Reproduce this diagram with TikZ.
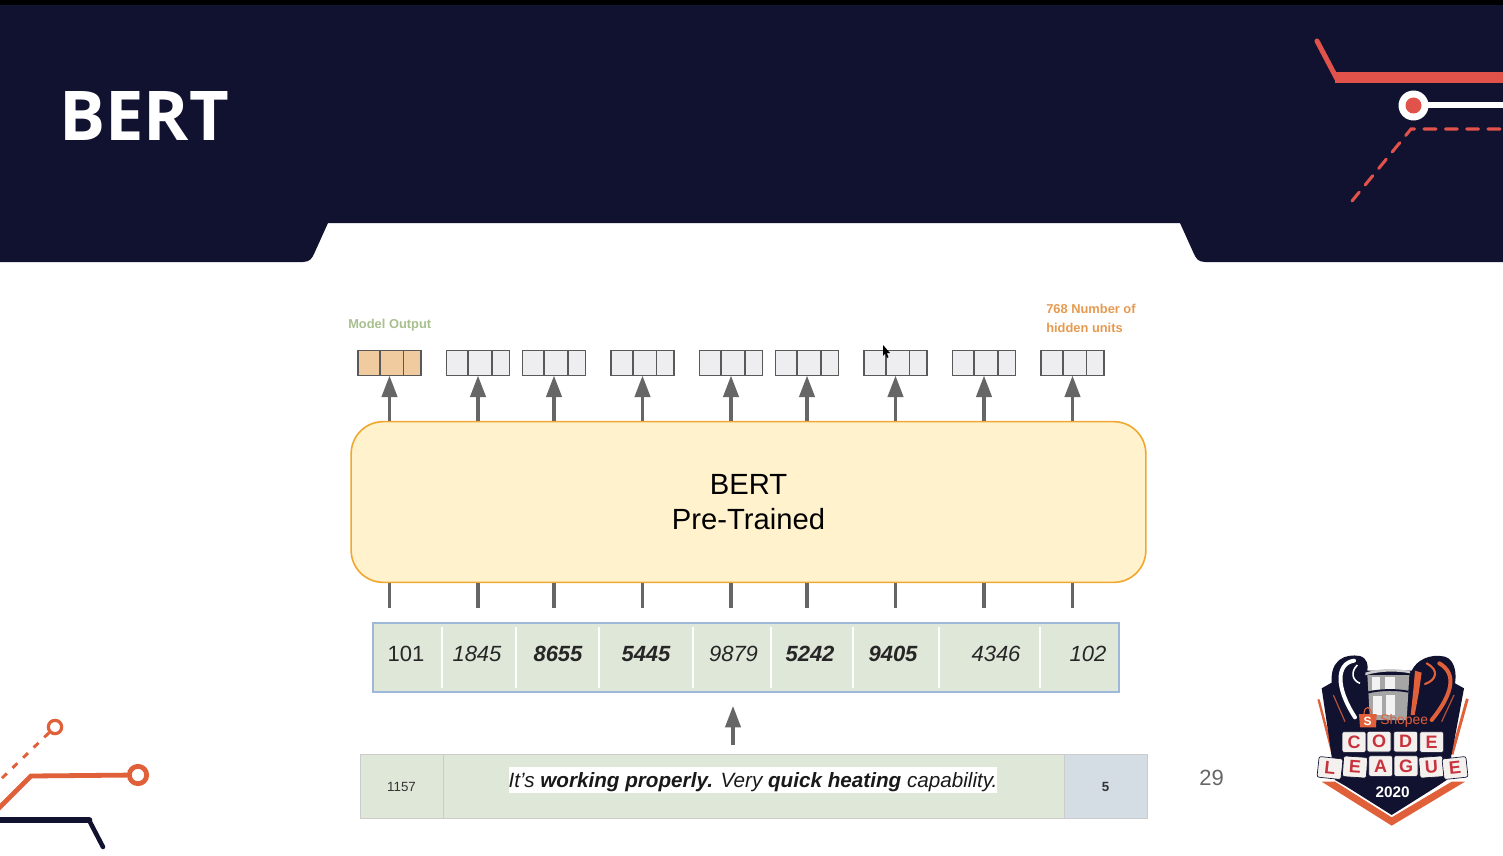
\documentclass[tikz,border=0pt]{standalone}
\usepackage{fontspec}
\setmainfont{Liberation Sans}
\newfontfamily\headfont{Open Sans}
\usetikzlibrary{arrows.meta}
\definecolor{navy}{HTML}{111130}
\definecolor{deco}{HTML}{E0524A}
\definecolor{decoO}{HTML}{E0603A}
\definecolor{arrowgray}{HTML}{666666}
\definecolor{cellgreen}{HTML}{DFE7D9}
\definecolor{cellblue}{HTML}{D3DDE3}
\definecolor{bertfill}{HTML}{FFF2CC}
\definecolor{bertline}{HTML}{F0A830}
\definecolor{tile}{HTML}{F4F0EE}
\definecolor{lettercol}{HTML}{C8323C}
\definecolor{outorange}{HTML}{F0CBA0}
\definecolor{outgray}{HTML}{EEEEF1}
\definecolor{modelgreen}{HTML}{A8C08E}
\definecolor{unitorange}{HTML}{E69A50}
\definecolor{tokenline}{HTML}{9DB8D8}
\tikzset{
  x=0.75pt,y=-0.75pt,
  flow/.style={draw=arrowgray,line width=2.3pt,-{Triangle[length=16pt,width=11.5pt]}},
  stub/.style={draw=arrowgray,line width=2.3pt},
  outbox/.style={draw=black!65,line width=1.2pt,fill=#1,minimum width=47pt,minimum height=19pt,inner sep=0pt,outer sep=0pt},
  token/.style={font=\fontsize{16.5pt}{18pt}\selectfont,inner sep=0pt,text=black!85},
  small/.style={font=\fontsize{10pt}{12pt}\selectfont,inner sep=0pt,text=black!80},
  sep/.style={draw=white,line width=2.2pt},
  lsep/.style={draw=black!20,line width=0.7pt},
  lettertile/.style={fill=tile,draw=navy,line width=0.5pt,rounded corners=1.5pt,minimum width=18pt,minimum height=15.5pt,inner sep=0pt,text=lettercol,font=\fontsize{13.5pt}{14pt}\selectfont\bfseries}
}
\begin{document}
\begin{tikzpicture}
\useasboundingbox (0,0) rectangle (1503,856);
\fill[white] (0,0) rectangle (1503,856);
% header
\fill[navy] (0,0) -- (1503,0) -- (1503,262) -- (1205,262) .. controls (1198,262) and (1196,258) .. (1194,254) -- (1180,223) -- (328,223) -- (314,254) .. controls (312,258) and (310,262) .. (303,262) -- (0,262) -- cycle;
\fill[black] (0,0) rectangle (1503,5);
\node[anchor=west,inner sep=0pt,text=white,font=\fontsize{51.5pt}{52pt}\selectfont\headfont\bfseries] (title) at (59,116) {BERT};
% top right decoration
\draw[deco,line width=3.8pt,line cap=round] (1317,41) -- (1337,79);
\fill[deco] (1335,72) rectangle (1503,83);
\draw[white,line width=5.2pt] (1420,105) -- (1503,105);
\node[circle,fill=white,minimum size=22.5pt,inner sep=0pt] (ringR) at (1413.5,105.5) {};
\node[circle,fill=deco,minimum size=12pt,inner sep=0pt] (dotR) at (ringR) {};
\draw[deco,line width=2.3pt,dash pattern=on 9pt off 7pt,line cap=round] (1500,129) -- (1411,129) -- (1352,201);
% bottom left decoration
\node[circle,draw=decoO,line width=2.4pt,minimum size=10pt,inner sep=0pt] (ringA) at (55,727) {};
\draw[decoO,line width=2.2pt,dash pattern=on 5pt off 6pt] (ringA) -- (0,780);
\node[circle,draw=decoO,line width=3.6pt,minimum size=13pt,inner sep=0pt] (ringB) at (138,775) {};
\draw[decoO,line width=3.6pt] (ringB) -- (31,776) -- (-2,809);
\draw[navy,line width=5pt,line cap=round] (-2,820) -- (89,820);
\draw[navy,line width=3.4pt,line cap=round] (89,820) -- (103,847);
% labels
\node[anchor=west,inner sep=0pt,font=\fontsize{9.65pt}{11pt}\selectfont\bfseries,text=modelgreen] (modelout) at (348,325) {Model Output};
\node[anchor=north west,align=left,inner sep=0pt,font=\fontsize{9.65pt}{14.2pt}\selectfont\bfseries,text=unitorange] (units) at (1046,303.5) {768 Number of\\hidden units};
% BERT box
\node[draw=bertline,fill=bertfill,line width=1.2pt,rounded corners=24pt,minimum width=596pt,minimum height=120.5pt,inner sep=0pt,align=center,font=\fontsize{21.9pt}{26pt}\selectfont] (bert) at (748.5,502) {BERT\\Pre-Trained};
% output boxes and arrows
\foreach \i/\xc/\col in {1/389.5/outorange,2/478/outgray,3/554/outgray,4/642.5/outgray,5/731/outgray,6/807/outgray,7/895.5/outgray,8/984/outgray,9/1072.5/outgray}{
  \node[outbox=\col] (out\i) at (\xc,363) {};
  \draw[black!65,line width=1.2pt] ([xshift=16.2pt]out\i.north west) -- ([xshift=16.2pt]out\i.south west);
  \draw[black!65,line width=1.2pt] ([xshift=34pt]out\i.north west) -- ([xshift=34pt]out\i.south west);
  \coordinate (base\i) at (bert.north -| out\i.south);
  \draw[flow] (base\i) -- (out\i.south);
  \coordinate (low\i) at (bert.south -| out\i.south);
  \coordinate (tok\i) at (\xc,608);
  \draw[stub] (low\i) -- (tok\i);
}
% token strip
\node[draw=tokenline,fill=cellgreen,line width=1.5pt,minimum width=559.5pt,minimum height=51.5pt,inner sep=0pt] (tokens) at (746,657.5) {};
\foreach \s in {442,516,599,693,771,853,939,1040}{
  \draw[sep] (\s,627) -- (\s,688);
}
\node[token] (t1) at (406,654) {101};
\node[token] (t2) at (477,654) {\itshape 1845};
\node[token] (t3) at (558,654) {\itshape\bfseries 8655};
\node[token] (t4) at (646,654) {\itshape\bfseries 5445};
\node[token] (t5) at (733.5,654) {\itshape 9879};
\node[token] (t6) at (810,654) {\itshape\bfseries 5242};
\node[token] (t7) at (893,654) {\itshape\bfseries 9405};
\node[token] (t8) at (996,654) {\itshape 4346};
\node[token] (t9) at (1088,654) {\itshape 102};
% sentence strip
\node[fill=cellgreen,inner sep=0pt,minimum width=590pt,minimum height=48pt] (sentence) at (753.5,786) {};
\fill[cellblue] (1064.5,754.5) rectangle (1146.5,817.5);
\draw[lsep] (443,754) -- (443,818);
\draw[lsep] (1064,754) -- (1064,818);
\draw[black!20,line width=0.7pt] (360,754) rectangle (1147,818);
\node[small] (c1) at (401.5,787) {1157};
\node[small,font=\fontsize{10pt}{12pt}\selectfont\bfseries] (c5) at (1105.5,787) {5};
\node[fill=white,inner sep=0pt,minimum height=19.5pt,text depth=0pt,font=\fontsize{15.5pt}{18pt}\selectfont,text=black!90] (sent) at (753,780) {\itshape It's \textbf{working properly.} Very \textbf{quick heating} capability.};
\coordinate (arrowtop) at (733,706);
\coordinate (arrowbase) at (733,745);
\draw[flow] (arrowbase) -- (arrowtop);
\node[inner sep=0pt,text=arrowgray,font=\fontsize{16.5pt}{18pt}\selectfont] (page) at (1211.5,777.5) {29};
% cursor
\fill[black] (883,345) -- (883,356) -- (885.2,353.6) -- (887,358) -- (888.5,357.2) -- (886.8,353) -- (890,353) -- cycle;
% logo
\begin{scope}[shift={(1280,640)},x=0.25pt,y=-0.25pt]
  \fill[decoO] (112,178) -- (119,178) -- (162,340) -- (155,345) -- cycle;
  \fill[decoO] (566,178) -- (558,175) -- (512,340) -- (520,345) -- cycle;
  \fill[decoO] (125,425) -- (165,425) -- (335,532) -- (515,425) -- (555,425) -- (335,557) -- cycle;
  \fill[navy] (125,145) -- (155,128) .. controls (150,60) and (195,40) .. (240,48) .. controls (262,55) and (265,75) .. (262,92) -- (395,92) .. controls (410,60) and (450,40) .. (495,50) .. controls (525,60) and (530,100) .. (525,130) -- (552,145) -- (525,290) -- (500,420) -- (470,440) -- (335,525) -- (200,440) -- (165,420) -- (145,280) -- cycle;
  % cup
  \fill[black!35] (262,105) -- (388,105) -- (380,240) -- (270,240) -- cycle;
  \fill[black!20] (256,98) .. controls (300,84) and (350,84) .. (390,94) -- (390,100) .. controls (350,92) and (300,92) .. (256,106) -- cycle;
  \fill[white!90!gray] (276,112) rectangle (301,150);
  \fill[white!90!gray] (315,110) rectangle (345,148);
  \fill[white!90!gray] (280,168) rectangle (305,225);
  \fill[white!90!gray] (318,165) rectangle (346,225);
  \draw[navy,line width=1.4pt] (262,158) .. controls (300,148) and (350,148) .. (385,155);
  % handles
  \draw[white,line width=3pt,line cap=round] (222,62) .. controls (170,70) and (165,140) .. (225,232);
  \draw[white,line width=1.2pt] (232,75) .. controls (212,95) and (215,120) .. (240,130);
  \draw[decoO,line width=3pt,line cap=round] (478,70) .. controls (530,100) and (520,160) .. (455,240);
  \draw[decoO,line width=1.6pt,line cap=round] (440,70) .. controls (478,90) and (470,120) .. (435,132);
  \fill[decoO] (405,92) -- (425,98) -- (416,160) -- (404,225) -- (392,225) -- (400,150) -- cycle;
  \draw[decoO!80!navy,line width=0.9pt] (160,165) -- (195,245);
  \draw[decoO!80!navy,line width=0.9pt] (522,165) -- (485,245);
  % shopee
  \fill[decoO] (237,222) -- (290,222) -- (288,262) -- (240,262) -- cycle;
  \draw[decoO,line width=0.8pt] (252,222) .. controls (252,196) and (274,196) .. (274,222);
  \node[inner sep=0pt,text=white,font=\fontsize{9pt}{9pt}\selectfont\bfseries] (shopS) at (263,243) {S};
  \node[anchor=west,inner sep=0pt,text=decoO,font=\fontsize{10.4pt}{11pt}\selectfont] (shopee) at (300,244) {Shopee};
  % tiles
  \node[lettertile] (l1) at (222,306) {C};
  \node[lettertile] (l2) at (297,305) {O};
  \node[lettertile] (l3) at (377,305) {D};
  \node[lettertile] (l4) at (455,306) {E};
  \node[lettertile,rotate=-6] (l5) at (150,384) {L};
  \node[lettertile,rotate=-4] (l6) at (225,381) {E};
  \node[lettertile] (l7) at (302,378) {A};
  \node[lettertile] (l8) at (378,378) {G};
  \node[lettertile,rotate=4] (l9) at (454,381) {U};
  \node[lettertile,rotate=6] (l10) at (525,384) {E};
  \node[inner sep=0pt,text=white,font=\fontsize{11.5pt}{12pt}\selectfont\bfseries] (year) at (338,458) {2020};
\end{scope}
\end{tikzpicture}
\end{document}
